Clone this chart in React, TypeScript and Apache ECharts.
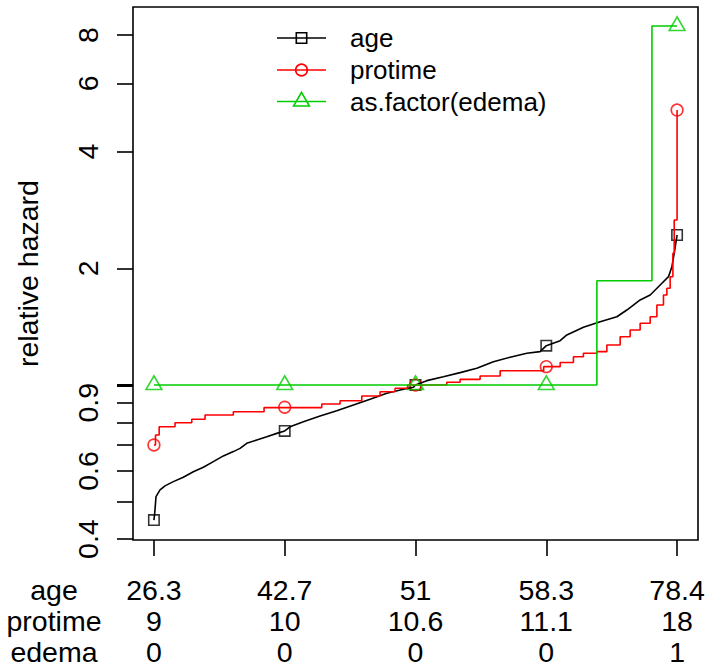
import React, { useEffect, useRef } from "react";
import * as echarts from "echarts";

// ---- data ----
const quantiles = [0, 0.25, 0.5, 0.75, 1];
const ageLabels = ["26.3", "42.7", "51", "58.3", "78.4"];
const protimeLabels = ["9", "10", "10.6", "11.1", "18"];
const edemaLabels = ["0", "0", "0", "0", "1"];
const rowNames = ["age", "protime", "edema"];
const legendNames = ["age", "protime", "as.factor(edema)"];
const yTickValues = [0.4, 0.5, 0.6, 0.7, 0.8, 0.9, 1, 2, 4, 6, 8];
const yLabelValues = [0.4, 0.6, 0.9, 2, 4, 6, 8];
const yRange = [0.398, 9.449];

// age: relative hazard vs percentile rank
const ageCurve: [number, number][] = [
  [0, 0.448], [0.0015, 0.4665], [0.004, 0.515], [0.0117, 0.536], [0.0212, 0.549],
  [0.0371, 0.563], [0.0562, 0.578], [0.0753, 0.597], [0.0945, 0.613], [0.1136, 0.634],
  [0.1327, 0.656], [0.1518, 0.673], [0.1646, 0.686], [0.1774, 0.707], [0.1966, 0.721],
  [0.2157, 0.735], [0.2348, 0.75], [0.25, 0.761], [0.2602, 0.78], [0.2857, 0.804],
  [0.3176, 0.832], [0.3495, 0.858], [0.3813, 0.888], [0.4132, 0.918], [0.4451, 0.952],
  [0.4769, 0.975], [0.496, 0.986], [0.5, 1.0], [0.5216, 1.026], [0.5533, 1.05],
  [0.5853, 1.076], [0.6172, 1.104], [0.6489, 1.148], [0.6809, 1.179], [0.7128, 1.207],
  [0.7382, 1.219], [0.75, 1.263], [0.7765, 1.301], [0.7893, 1.346], [0.821, 1.409],
  [0.853, 1.456], [0.8849, 1.5], [0.904, 1.561], [0.9294, 1.657], [0.9486, 1.707],
  [0.9677, 1.811], [0.9836, 1.903], [0.9901, 2.019], [0.9945, 2.187], [0.9996, 2.413],
  [1, 2.438],
];
const ageMarkers: [number, number][] = [[0, 0.448], [0.25, 0.761], [0.5, 1.0], [0.75, 1.263], [1, 2.438]];

// protime: step levels (start of level, value)
const protimeSteps: [number, number][] = [
  [0, 0.7], [0.003, 0.743], [0.01, 0.78], [0.0403, 0.799], [0.0723, 0.8155],
  [0.0977, 0.8365], [0.1518, 0.8531], [0.2105, 0.874], [0.3208, 0.8931], [0.3558, 0.9107],
  [0.3973, 0.9365], [0.4323, 0.9608], [0.461, 0.9804], [0.485, 1.0], [0.5598, 1.016],
  [0.5853, 1.034], [0.6235, 1.055], [0.6618, 1.088], [0.745, 1.115], [0.7765, 1.143],
  [0.8019, 1.183], [0.821, 1.207], [0.8467, 1.219], [0.8658, 1.268], [0.8912, 1.332],
  [0.9103, 1.386], [0.9294, 1.443], [0.9486, 1.5], [0.9614, 1.608], [0.974, 1.707],
  [0.9805, 1.776], [0.9868, 1.903], [0.992, 2.187], [0.9945, 2.665], [1, 5.123],
];
const protimeMarkers: [number, number][] = [[0, 0.7], [0.25, 0.876], [0.5, 1.0], [0.75, 1.115], [1, 5.123]];

// edema: step levels
const edemaSteps: [number, number][] = [[0, 1.0], [0.8467, 1.857], [0.952, 8.44], [1, 8.44]];
const edemaMarkers: [number, number][] = [[0, 1.0], [0.25, 1.0], [0.5, 1.0], [0.75, 1.0], [1, 8.44]];

const colors = ["#000000", "#FF0000", "#00CD00"];

export default function App() {
  const ref = useRef<HTMLDivElement>(null);
  useEffect(() => {
    const chart = echarts.init(ref.current!, null, { renderer: "svg" });
    const L = (v: number) => Math.log(v);
    const tr = (arr: [number, number][]) => arr.map(([x, v]) => [x, L(v)]);
    const fontFamily = "Liberation Sans, Arial, Helvetica, sans-serif";
    const fs = 26; // legend
    const fa = 28.5; // axis texts
    const lw = 1.6;

    const legendY = [38, 70, 101.5];
    const lx1 = 277, lx2 = 326, lmx = 301.5;
    const graphic: any[] = [];
    legendNames.forEach((name, i) => {
      const y = legendY[i];
      graphic.push({
        type: "line",
        shape: { x1: lx1, y1: y, x2: lx2, y2: y },
        style: { stroke: colors[i], lineWidth: lw },
        z: 100,
      });
      graphic.push({
        type: "text",
        x: 350,
        y: y,
        z: 100,
        style: {
          text: name, fill: "#000", fontSize: fs, fontFamily,
          align: "left", textAlign: "left", verticalAlign: "middle", textVerticalAlign: "middle",
        },
      });
    });
    graphic.push({
      type: "rect",
      shape: { x: lmx - 5.2, y: legendY[0] - 5.2, width: 10.4, height: 10.4 },
      style: { fill: "none", stroke: colors[0], lineWidth: lw },
      z: 101,
    });
    graphic.push({
      type: "circle",
      shape: { cx: lmx, cy: legendY[1], r: 5.85 },
      style: { fill: "none", stroke: colors[1], lineWidth: lw },
      z: 101,
    });
    {
      const y = legendY[2], r = 9.1;
      graphic.push({
        type: "polygon",
        shape: { points: [[lmx, y - r], [lmx + r * 0.866, y + r / 2], [lmx - r * 0.866, y + r / 2]] },
        style: { fill: "none", stroke: colors[2], lineWidth: lw },
        z: 101,
      });
    }
    const rowY = [590, 620.8, 651.6];
    rowNames.forEach((n, i) => {
      graphic.push({
        type: "text",
        x: 54,
        y: rowY[i],
        style: {
          text: n, fill: "#000", fontSize: fa, fontFamily,
          align: "center", textAlign: "center", verticalAlign: "middle", textVerticalAlign: "middle",
        },
      });
    });

    const yMin = L(yRange[0]);
    const yMax = L(yRange[1]);

    const option: any = {
      animation: false,
      backgroundColor: "#ffffff",
      textStyle: { fontFamily },
      grid: {
        left: 133, top: 7, width: 565, height: 533,
        show: true, borderColor: "#000", borderWidth: lw, backgroundColor: "transparent",
      },
      xAxis: {
        type: "value", min: -0.04, max: 1.04, position: "bottom",
        axisLine: { show: false, onZero: false }, splitLine: { show: false },
        axisTick: { show: true, length: 16, lineStyle: { color: "#000", width: lw }, customValues: quantiles },
        axisLabel: {
          customValues: quantiles, margin: 34.6, color: "#000", fontSize: fa, fontFamily,
          lineHeight: 30.8,
          formatter: (v: number) => {
            const i = Math.round(v * 4);
            return `${ageLabels[i]}\n${protimeLabels[i]}\n${edemaLabels[i]}`;
          },
        },
      },
      yAxis: [
        {
          type: "value", min: yMin, max: yMax, position: "left",
          axisLine: { show: false, onZero: false }, splitLine: { show: false },
          axisTick: { show: true, length: 16, lineStyle: { color: "#000", width: lw }, customValues: yTickValues.map(L) },
          axisLabel: {
            customValues: yLabelValues.map(L), rotate: 90, margin: 31, color: "#000", fontSize: fa, fontFamily,
            formatter: (v: number) => String(+Math.exp(v).toFixed(1)),
          },
          name: "relative hazard", nameLocation: "middle", nameGap: 91,
          nameTextStyle: { color: "#000", fontSize: fa, fontFamily },
        },
        {
          type: "value", min: yMin, max: yMax, position: "left",
          axisLine: { show: false, onZero: false }, splitLine: { show: false }, axisLabel: { show: false },
          axisTick: { show: true, length: 16, lineStyle: { color: "#000", width: 3 }, customValues: [L(1)] },
        },
      ],
      series: [
        {
          type: "line", data: tr(ageCurve), symbol: "none", showSymbol: false, silent: true,
          lineStyle: { color: colors[0], width: lw },
        },
        {
          type: "scatter", data: tr(ageMarkers), symbol: "rect", symbolSize: 10.4, silent: true,
          itemStyle: { color: "rgba(0,0,0,0)", borderColor: colors[0], borderWidth: lw },
        },
        {
          type: "line", data: tr(protimeSteps), step: "end", symbol: "none", showSymbol: false, silent: true,
          lineStyle: { color: colors[1], width: lw },
        },
        {
          type: "scatter", data: tr(protimeMarkers), symbol: "circle", symbolSize: 11.7, silent: true,
          itemStyle: { color: "rgba(0,0,0,0)", borderColor: colors[1], borderWidth: lw },
        },
        {
          type: "line", data: tr(edemaSteps), step: "end", symbol: "none", showSymbol: false, silent: true,
          lineStyle: { color: colors[2], width: lw },
        },
        {
          type: "scatter", data: tr(edemaMarkers), symbol: "triangle", symbolSize: [15.8, 13.65],
          symbolOffset: [0, -2.3], silent: true,
          itemStyle: { color: "rgba(0,0,0,0)", borderColor: colors[2], borderWidth: lw },
        },
      ],
      graphic,
    };
    chart.setOption(option);
    return () => chart.dispose();
  }, []);
  return (
    <div
      ref={ref}
      style={{ position: "fixed", left: 0, top: 0, width: 708, height: 670, background: "#fff" }}
    />
  );
}
